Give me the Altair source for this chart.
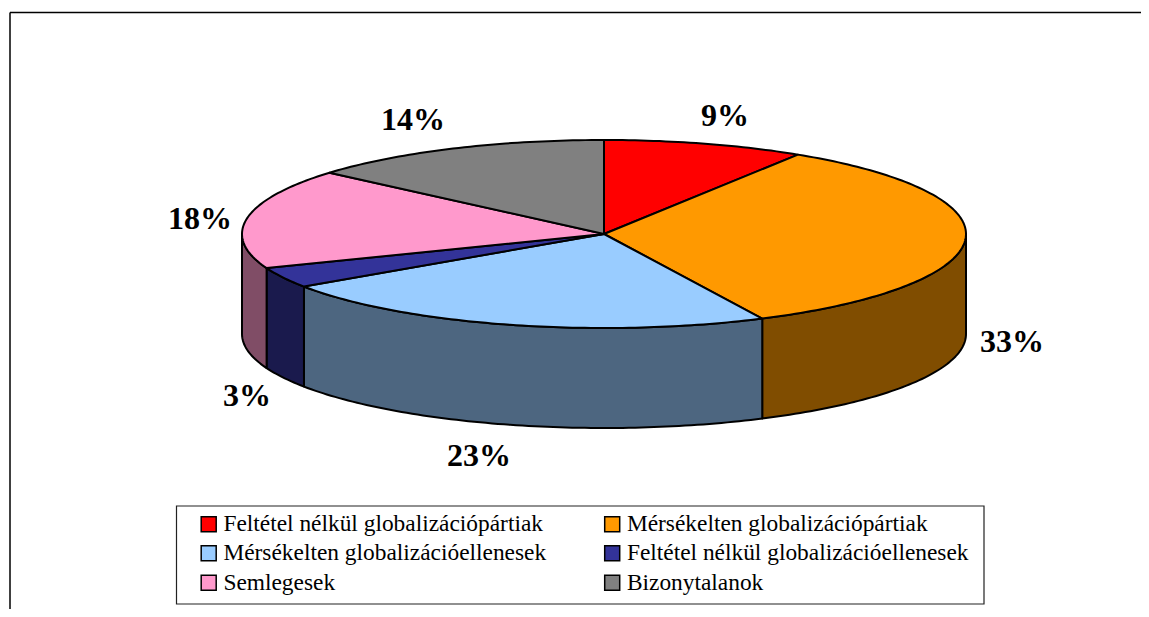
import math
import altair as alt
import pandas as pd

# Chart values
categories = ["Feltétel nélkül globalizációpártiak", "Mérsékelten globalizációpártiak",
              "Mérsékelten globalizációellenesek", "Feltétel nélkül globalizációellenesek",
              "Semlegesek", "Bizonytalanok"]
shares = [9.0, 33.8, 22.75, 3.55, 17.2, 13.7]
labels = ["9%", "33%", "23%", "3%", "18%", "14%"]
top_colors = ["#FF0000", "#FF9900", "#99CCFF", "#333399", "#FF99CC", "#808080"]
side_colors = ["#804D00", "#804D00", "#4D6680", "#1A1A4D", "#804D66", "#404040"]
label_px = [725, 1012, 479, 247, 200, 413]
label_py = [116, 342, 456, 396, 219, 120]

# Pie proportions (unit radius)
RX, CX, CY = 362.0, 604.0, 234.0
SQUASH = 94.0 / RX
DEPTH = 100.0 / RX


def rim(deg, drop=0.0):
    a = math.radians(deg)
    return [math.sin(a), SQUASH * math.cos(a) - drop]


def sweep(a0, a1):
    n = max(2, int(abs(a1 - a0)) + 2)
    return [a0 + (a1 - a0) * i / (n - 1) for i in range(n)]


tops, side_layers = [], []
start = 0.0
for name, share, col, shade in zip(categories, shares, top_colors, side_colors):
    end = start + share * 3.6
    ring = [[0.0, 0.0]] + [rim(d) for d in sweep(start, end)] + [[0.0, 0.0]]
    tops.append({"type": "Feature", "properties": {"name": name},
                 "geometry": {"type": "Polygon", "coordinates": [ring]}})
    a0, a1 = max(start, 90.0), min(end, 270.0)
    if a1 > a0:
        front = [rim(d) for d in sweep(a0, a1)]
        back = [rim(d, DEPTH) for d in sweep(a1, a0)]
        poly = front + back + [front[0]]
        feat = {"type": "Feature", "properties": {},
                "geometry": {"type": "Polygon", "coordinates": [poly]}}
        side_layers.append(alt.Chart(alt.Data(values=[feat])).mark_geoshape(
            fill=shade, stroke="black", strokeWidth=2, strokeJoin="round"))
    start = end

top_layer = alt.Chart(alt.Data(values=tops)).mark_geoshape(
    stroke="black", strokeWidth=2, strokeJoin="round"
).encode(
    color=alt.Color(
        "properties.name:N",
        scale=alt.Scale(domain=categories, range=top_colors),
        sort=categories,
        legend=alt.Legend(
            title=None, orient="none", legendX=189, legendY=504, columns=2,
            direction="horizontal",
            symbolType="square", symbolSize=225, symbolStrokeColor="black",
            symbolStrokeWidth=1.5, symbolOpacity=1, labelFont="Liberation Serif",
            labelFontSize=23.4, labelColor="black", labelLimit=600, labelOffset=3,
            columnPadding=53.5, rowPadding=4.5, padding=0,
        ),
    )
)

label_df = pd.DataFrame({"t": labels, "px": [v - 8 for v in label_px], "py": [v - 8 for v in label_py]})
label_layer = alt.Chart(label_df).mark_text(
    font="Liberation Serif", fontSize=32, fontWeight="bold", color="black",
    align="center", baseline="middle"
).encode(x=alt.X("px:Q", scale=None, axis=None), y=alt.Y("py:Q", scale=None, axis=None), text="t:N")

box = alt.Chart(pd.DataFrame({"a": [0]})).mark_rect(fill="white", fillOpacity=0, stroke="#222222", strokeWidth=1.2).encode(
    x=alt.value(168.5), x2=alt.value(976), y=alt.value(498), y2=alt.value(596))
frame_top = alt.Chart(pd.DataFrame({"a": [0]})).mark_rule(color="black", strokeWidth=1.5).encode(
    x=alt.value(2), x2=alt.value(1133), y=alt.value(4.5))
frame_left = alt.Chart(pd.DataFrame({"a": [0]})).mark_rule(color="black", strokeWidth=1.5).encode(
    x=alt.value(2), y=alt.value(4.5), y2=alt.value(601))

chart = alt.layer(frame_top, frame_left, box, *side_layers, top_layer, label_layer).project(
    type="identity", reflectY=True, scale=RX, translate=[CX - 8, CY - 8]
).properties(
    width=1133, height=601, padding=0, autosize=alt.AutoSizeParams(type="none"), background="white"
).configure_view(stroke=None)

chart.save("out.html", embed_options={"renderer": "svg", "actions": False})
